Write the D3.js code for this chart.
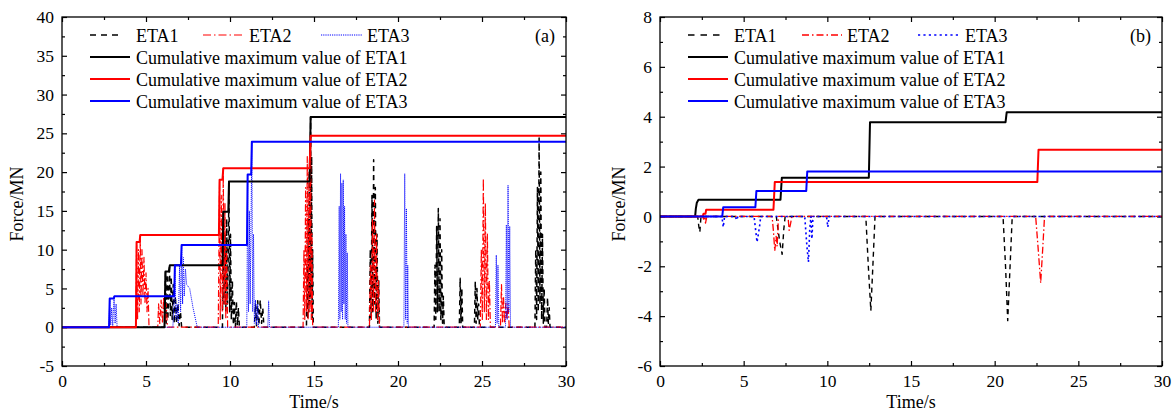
<!DOCTYPE html>
<html><head><meta charset="utf-8">
<script src="https://cdn.jsdelivr.net/npm/d3@7/dist/d3.min.js"></script>
<style>
body{margin:0;background:#fff;}
svg{display:block;}
text{font-family:"Liberation Serif","Times New Roman",serif;fill:#000;}
</style></head>
<body><svg id="chart" width="1174" height="413"></svg>
<script>
// ---------- data : panel (a) ----------
const aEta1 = [[0,0],[6.10,0],[6.16,7.2],[6.2,0.5],[6.26,6.8],[6.3,1],[6.4,8.0],[6.45,1.5],[6.5,6.5],[6.56,1],[6.62,5.5],[6.68,0.5],[6.75,4],[6.82,0.5],[6.9,3],[6.97,0.2],[7.05,2],[7.12,0],
 [9.55,0],[9.6,14.9],[9.64,3],[9.7,12],[9.75,2],[9.8,14],[9.85,3],[9.9,10],[9.94,18.8],[9.98,2],[10.03,12],[10.08,1],[10.14,6],[10.2,0.3],[10.26,3.2],[10.32,0],[10.38,3.3],[10.44,0.2],[10.5,2.5],[10.56,0],
 [11.45,0],[11.52,3.0],[11.58,0.2],[11.65,3.4],[11.72,0.3],[11.8,3.5],[11.88,0.5],[11.95,2.5],[12.02,0],
 [14.55,0],[14.6,8],[14.63,1],[14.66,14],[14.69,2],[14.72,20],[14.75,3],[14.8,27.1],[14.83,4],[14.86,22],[14.89,1],[14.92,10],[14.96,0],
 [18.3,0],[18.35,10],[18.4,1],[18.45,17],[18.5,2],[18.55,21.6],[18.6,3],[18.65,18],[18.7,1],[18.75,12],[18.8,0.5],[18.85,6],[18.9,0],
 [22.15,0],[22.2,8],[22.25,1],[22.3,13],[22.35,2],[22.4,15.3],[22.45,2],[22.5,14],[22.55,1],[22.6,10],[22.65,0.5],[22.7,4],[22.75,0],
 [23.65,0],[23.7,6.3],[23.75,0.5],[23.8,5],[23.85,0],
 [24.55,0],[24.6,5.9],[24.65,0.5],[24.7,5],[24.75,1],[24.8,3],[24.85,0],
 [28.15,0],[28.2,10],[28.25,1],[28.3,18],[28.35,2],[28.4,24.4],[28.45,3],[28.5,20],[28.55,1],[28.6,12],[28.65,0.5],[28.7,5],[28.75,0],
 [28.85,0],[28.9,3.8],[28.95,0.5],[29.0,2.5],[29.05,0],[30,0]];
const aEta2 = [[0,0],[4.4,0],[4.44,11.0],[4.5,1],[4.55,10],[4.6,2],[4.66,11.9],[4.7,3],[4.76,10],[4.82,4],[4.88,9],[4.94,3],[5.0,7],[5.06,2],[5.12,5],[5.18,0],
 [5.7,0],[5.75,3],[5.82,0.5],[5.9,3.5],[5.98,0.5],[6.05,3.9],[6.12,0.5],[6.2,3],[6.28,0],
 [9.3,0],[9.38,19.0],[9.42,1],[9.48,17],[9.54,2],[9.6,20.5],[9.65,3],[9.7,16],[9.75,1],[9.8,10],[9.86,0],
 [14.35,0],[14.4,10],[14.45,1],[14.5,18],[14.55,2],[14.6,22],[14.65,1],[14.7,20],[14.75,2],[14.8,24.7],[14.84,1],[14.88,12],[14.92,0],
 [18.3,0],[18.36,8],[18.42,1],[18.48,14],[18.54,2],[18.6,16.4],[18.66,2],[18.72,12],[18.78,1],[18.84,6],[18.9,0],
 [24.9,0],[24.96,10],[25.02,1],[25.08,19.2],[25.14,2],[25.2,16],[25.26,1],[25.32,12],[25.38,1],[25.44,6],[25.5,0],
 [26.1,0],[26.16,5.5],[26.22,0.5],[26.28,4],[26.34,0.5],[26.42,3.1],[26.48,1],[26.55,3],[26.62,0],[30,0]];
const aEta3 = [[0,0],[2.8,0],[2.84,3.7],[2.9,0.3],[2.96,2.5],[3.02,0.2],[3.1,4.0],[3.16,0.5],[3.22,3.0],[3.28,0],
 [6.6,0],[6.66,3],[6.72,8.0],[6.78,1],[6.85,3],[6.92,0.5],[7.0,8],[7.06,2],[7.12,10.6],[7.18,3],[7.22,9.0],[7.28,4],[7.35,7.5],[7.42,5.5],[7.6,5.0],[7.8,2.5],[8.05,0],
 [11.0,0],[11.05,19.7],[11.1,2],[11.15,15],[11.2,3],[11.3,23.9],[11.35,2],[11.4,12],[11.45,0.5],[11.52,3.5],[11.58,0.3],[11.65,3],[11.7,0],
 [12.25,0],[12.3,3.4],[12.35,0],
 [16.45,0],[16.5,15.6],[16.54,1],[16.58,19.8],[16.62,2],[16.66,18.6],[16.7,1],[16.74,19],[16.78,3],[16.82,15.6],[16.86,1],[16.9,12],[16.94,0.5],[16.98,9.6],[17.02,0],
 [20.35,0],[20.4,19.8],[20.45,1],[20.5,15.3],[20.55,0.5],[20.58,8],[20.62,0],
 [25.8,0],[25.85,9.3],[25.9,0.5],[25.95,8],[26.0,0],
 [26.4,0],[26.45,13.2],[26.5,1],[26.55,18.3],[26.6,2],[26.65,13],[26.7,0],[30,0]];
const aCum1 = [[0,0],[6.1,0],[6.16,7.2],[6.36,7.2],[6.42,8.0],[9.56,8.0],[9.6,14.9],[9.9,14.9],[9.94,18.8],[14.74,18.8],[14.8,27.1],[30,27.1]];
const aCum2 = [[0,0],[4.4,0],[4.44,11.0],[4.62,11.0],[4.66,11.9],[9.34,11.9],[9.38,19.0],[9.55,19.0],[9.6,20.5],[14.74,20.5],[14.8,24.7],[30,24.7]];
const aCum3 = [[0,0],[2.8,0],[2.84,3.7],[3.08,3.7],[3.12,4.0],[6.68,4.0],[6.72,8.0],[7.08,8.0],[7.12,10.6],[11.01,10.6],[11.05,19.7],[11.26,19.7],[11.3,23.9],[30,23.9]];

// ---------- data : panel (b) ----------
const bEta1 = [[0,0],[2.25,0],[2.32,-0.4],[2.38,-0.63],[2.45,0],[6.95,0],[7.05,-0.5],[7.15,-1.0],[7.3,-1.52],[7.4,-0.5],[7.48,0],
 [12.3,0],[12.45,-2],[12.6,-3.78],[12.72,-2],[12.85,0],[20.5,0],[20.65,-2],[20.78,-4.18],[20.92,-2],[21.05,0],[30,0]];
const bEta2 = [[0,0],[2.55,0],[2.6,-0.11],[2.68,0],[2.72,-0.27],[2.8,0],[6.7,0],[6.78,-0.6],[6.86,-1.38],[6.94,-0.8],[7.0,-1.2],[7.08,0],
 [7.65,0],[7.72,-0.56],[7.8,-0.3],[7.88,0],[22.45,0],[22.6,-1.3],[22.75,-2.67],[22.88,-1.2],[22.98,0],[30,0]];
const bEta3 = [[0,0],[3.7,0],[3.78,-0.43],[3.86,0],[4.5,0],[4.58,-0.15],[4.66,0],[5.62,0],[5.8,-1.03],[5.95,-0.4],[6.02,0],
 [8.65,0],[8.78,-1.2],[8.87,-1.83],[8.95,-0.5],[9.02,0],[9.08,-0.9],[9.14,0],[9.95,0],[10.03,-0.43],[10.1,0],[30,0]];
const bCum1 = [[0,0],[2.1,0],[2.14,0.3],[2.2,0.55],[2.3,0.67],[7.2,0.67],[7.28,1.55],[12.48,1.55],[12.55,3.78],[20.65,3.78],[20.72,4.18],[30,4.18]];
const bCum2 = [[0,0],[2.55,0],[2.6,0.11],[2.72,0.11],[2.76,0.27],[6.78,0.27],[6.86,1.38],[22.55,1.38],[22.62,2.67],[30,2.67]];
const bCum3 = [[0,0],[3.72,0],[3.78,0.37],[5.7,0.37],[5.76,1.02],[8.74,1.02],[8.8,1.8],[30,1.8]];

const legendNames = ["ETA1","ETA2","ETA3","Cumulative maximum value of ETA1","Cumulative maximum value of ETA2","Cumulative maximum value of ETA3"];
const xTicks = [0,5,10,15,20,25,30];
const aYTicks = [-5,0,5,10,15,20,25,30,35,40];
const bYTicks = [-6,-4,-2,0,2,4,6,8];

// ---------- drawing ----------
const svg = d3.select("#chart");
const FS = 18;      // legend / titles
const TFS = 17.5;   // tick labels
const FONT = "Liberation Serif, Times New Roman, serif";

function panel(cfg){
  const g = svg.append("g");
  const x = d3.scaleLinear().domain([0,30]).range([cfg.left,cfg.right]);
  const y = d3.scaleLinear().domain(cfg.yDomain).range([cfg.bottom,cfg.top]);
  const clipId = "clip"+cfg.id;
  svg.append("clipPath").attr("id",clipId).append("rect")
    .attr("x",cfg.left).attr("y",cfg.top).attr("width",cfg.right-cfg.left).attr("height",cfg.bottom-cfg.top);

  const xMinor = d3.range(2.5,30,5);
  const yMinor = cfg.yMinor;
  const fmt = d => String(d);

  const axes = [
    g.append("g").attr("transform",`translate(0,${cfg.bottom})`)
      .call(d3.axisBottom(x).tickValues(xTicks).tickSizeInner(-5).tickSizeOuter(0).tickPadding(9).tickFormat(fmt)),
    g.append("g").attr("transform",`translate(0,${cfg.bottom})`)
      .call(d3.axisBottom(x).tickValues(xMinor).tickSizeInner(-3).tickSizeOuter(0).tickFormat("")),
    g.append("g").attr("transform",`translate(0,${cfg.top})`)
      .call(d3.axisTop(x).tickValues(xTicks).tickSizeInner(-5).tickSizeOuter(0).tickFormat("")),
    g.append("g").attr("transform",`translate(0,${cfg.top})`)
      .call(d3.axisTop(x).tickValues(xMinor).tickSizeInner(-3).tickSizeOuter(0).tickFormat("")),
    g.append("g").attr("transform",`translate(${cfg.left},0)`)
      .call(d3.axisLeft(y).tickValues(cfg.yTicks).tickSizeInner(-5).tickSizeOuter(0).tickPadding(8).tickFormat(fmt)),
    g.append("g").attr("transform",`translate(${cfg.left},0)`)
      .call(d3.axisLeft(y).tickValues(yMinor).tickSizeInner(-3).tickSizeOuter(0).tickFormat("")),
    g.append("g").attr("transform",`translate(${cfg.right},0)`)
      .call(d3.axisRight(y).tickValues(cfg.yTicks).tickSizeInner(-5).tickSizeOuter(0).tickFormat("")),
    g.append("g").attr("transform",`translate(${cfg.right},0)`)
      .call(d3.axisRight(y).tickValues(yMinor).tickSizeInner(-3).tickSizeOuter(0).tickFormat(""))
  ];
  axes.forEach(a=>{
    a.attr("font-family",FONT).attr("font-size",TFS);
    a.select(".domain").remove();
    a.selectAll("line").attr("stroke","#000").attr("stroke-width",1.2);
    a.selectAll("text").attr("font-size",TFS).attr("font-family",FONT);
  });

  const line = d3.line().x(d=>x(d[0])).y(d=>y(d[1]));
  const plot = g.append("g").attr("clip-path",`url(#${clipId})`);
  const styles = cfg.styles;
  const series = [cfg.e1,cfg.e2,cfg.e3,cfg.c1,cfg.c2,cfg.c3];
  series.forEach((s,i)=>{
    plot.append("path").datum(s).attr("d",line).attr("fill","none")
      .attr("stroke",styles[i].c).attr("stroke-width",styles[i].w)
      .attr("stroke-dasharray",styles[i].d||null).attr("stroke-linejoin","round");
  });

  g.append("rect").attr("x",cfg.left).attr("y",cfg.top).attr("width",cfg.right-cfg.left)
    .attr("height",cfg.bottom-cfg.top).attr("fill","none").attr("stroke","#000").attr("stroke-width",1.3);

  const lg = g.append("g");
  cfg.legend.forEach((L,i)=>{
    lg.append("line").attr("x1",L.x1).attr("x2",L.x2).attr("y1",L.y).attr("y2",L.y)
      .attr("stroke",styles[i].c).attr("stroke-width",styles[i].lw||styles[i].w)
      .attr("stroke-dasharray",styles[i].ld||styles[i].d||null);
    lg.append("text").attr("x",L.tx).attr("y",L.y+6.5).attr("font-size",FS).text(legendNames[i]);
  });

  g.append("text").attr("x",cfg.right-11).attr("y",42).attr("text-anchor","end").attr("font-size",FS).text(cfg.letter);
  g.append("text").attr("x",(cfg.left+cfg.right)/2).attr("y",407.5).attr("text-anchor","middle").attr("font-size",FS).text("Time/s");
  g.append("text").attr("transform",`translate(${cfg.ylabX},204) rotate(-90)`).attr("text-anchor","middle").attr("font-size",FS).text("Force/MN");
}

const stylesA = [
  {c:"#000",w:1.5,d:"5,4",ld:"6,5"},
  {c:"#ff0000",w:1.2,d:"7,2.5,1.5,2.5",ld:"8,3,1.5,3"},
  {c:"#0000ff",w:1,d:"1,1",ld:"1.2,1"},
  {c:"#000",w:2},
  {c:"#ff0000",w:2},
  {c:"#0000ff",w:2}
];
const stylesB = [
  {c:"#000",w:1.4,d:"5,4",ld:"6.5,6"},
  {c:"#ff0000",w:1.3,d:"7,2.5,1.5,2.5",ld:"7,3,1.5,3"},
  {c:"#0000ff",w:1.6,d:"2,3",ld:"2.2,3.2"},
  {c:"#000",w:2},
  {c:"#ff0000",w:2},
  {c:"#0000ff",w:2}
];

panel({id:"a",left:62,right:566,top:17,bottom:366,yDomain:[-5,40],yTicks:aYTicks,
  yMinor:d3.range(-2.5,40,5),letter:"(a)",ylabX:23,styles:stylesA,
  e1:aEta1,e2:aEta2,e3:aEta3,c1:aCum1,c2:aCum2,c3:aCum3,
  legend:[{x1:90,x2:122,y:35,tx:136},{x1:203,x2:245,y:35,tx:249},{x1:321,x2:362,y:35,tx:367},
          {x1:90,x2:130,y:57,tx:136},{x1:90,x2:130,y:79,tx:136},{x1:90,x2:130,y:101,tx:136}]});
panel({id:"b",left:660,right:1162,top:17,bottom:366,yDomain:[-6,8],yTicks:bYTicks,
  yMinor:d3.range(-5,8,2),letter:"(b)",ylabX:625,styles:stylesB,
  e1:bEta1,e2:bEta2,e3:bEta3,c1:bCum1,c2:bCum2,c3:bCum3,
  legend:[{x1:688,x2:722,y:35,tx:734},{x1:802,x2:842,y:35,tx:847},{x1:918,x2:958,y:35,tx:965},
          {x1:688,x2:728,y:57,tx:734},{x1:688,x2:728,y:79,tx:734},{x1:688,x2:728,y:101,tx:734}]});
</script></body></html>
